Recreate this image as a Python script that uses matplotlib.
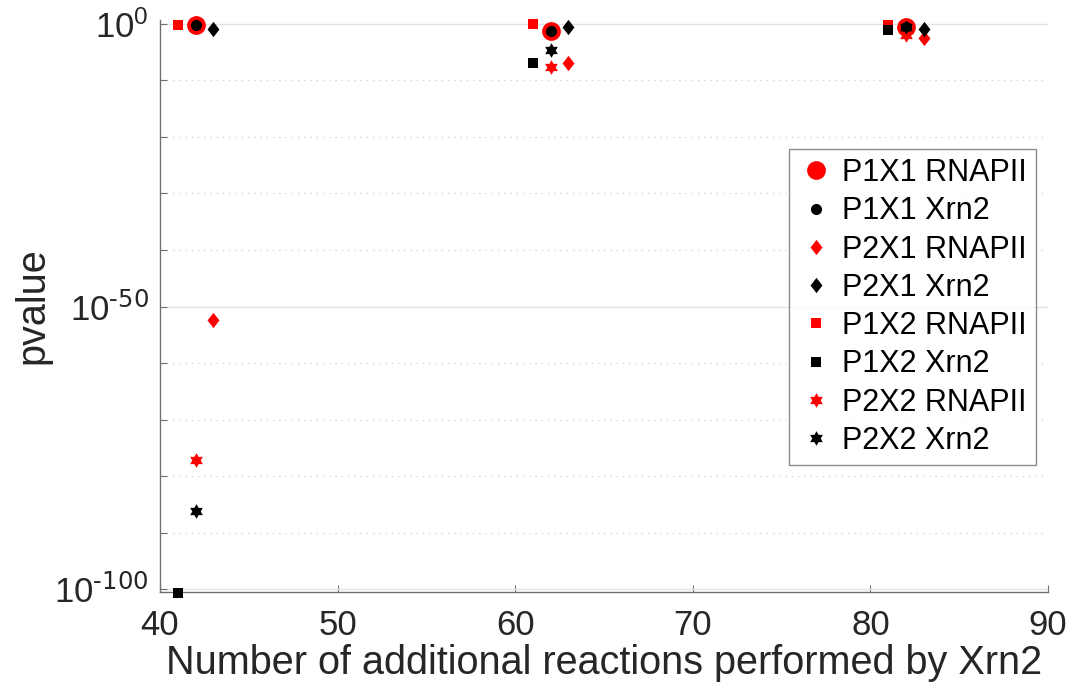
import numpy as np
import matplotlib
matplotlib.use("Agg")
import matplotlib.pyplot as plt
from matplotlib.ticker import FixedLocator, NullFormatter

plt.rcParams["font.family"] = ["Liberation Sans", "DejaVu Sans"]
plt.rcParams["mathtext.default"] = "regular"

# number of additional reactions (group centres) and per-series pvalues
reactions = [42, 62, 82]

p1x1_rnapii = [0.7, 0.063, 0.34]
p1x1_xrn2 = [0.7, 0.063, 0.34]
p2x1_rnapii = [5e-53, 1.1e-7, 3e-3]
p2x1_xrn2 = [0.13, 0.34, 0.11]
p1x2_rnapii = [0.7, 0.95, 0.8]
p1x2_xrn2 = [2e-101, 1.1e-7, 0.1]
p2x2_rnapii = [8e-78, 2.2e-8, 0.012]
p2x2_xrn2 = [6e-87, 2.5e-5, 0.3]

labels = ["P1X1 RNAPII", "P1X1 Xrn2", "P2X1 RNAPII", "P2X1 Xrn2",
          "P1X2 RNAPII", "P1X2 Xrn2", "P2X2 RNAPII", "P2X2 Xrn2"]

# six-pointed star and a slightly slim diamond, like the MATLAB markers
ang = np.pi / 2 + np.arange(12) * np.pi / 6
rad = np.where(np.arange(12) % 2 == 0, 1.0, 1 / np.sqrt(3))
hexagram = list(zip(rad * np.cos(ang), rad * np.sin(ang)))
diamond = [(0, 1), (0.78, 0), (0, -1), (-0.78, 0)]

series = [
    (p1x1_rnapii, 0, "o", "red", 13.5),
    (p1x1_xrn2, 0, "o", "black", 8),
    (p2x1_rnapii, 1, diamond, "red", 11),
    (p2x1_xrn2, 1, diamond, "black", 11),
    (p1x2_rnapii, -1, "s", "red", 7),
    (p1x2_xrn2, -1, "s", "black", 7),
    (p2x2_rnapii, 0, hexagram, "red", 10.5),
    (p2x2_xrn2, 0, hexagram, "black", 10.5),
]

fig = plt.figure(figsize=(10.73, 6.93), dpi=100)
ax = fig.add_axes([0.1491, 0.1457, 0.8276, 0.8254])

for (vals, dx, mk, col, ms), lab in zip(series, labels):
    xs = [r + dx for r in reactions]
    ax.plot(xs, vals, linestyle="none", marker=mk, color=col,
            markersize=ms, markeredgewidth=0, label=lab, clip_on=False,
            zorder=3)

ax.set_yscale("log")
ax.set_xlim(40, 90)
ax.set_ylim(10 ** -100.53, 10 ** 0.7)

ax.set_xticks([40, 50, 60, 70, 80, 90])
ax.yaxis.set_major_locator(FixedLocator([1e-100, 1e-50, 1e0]))
ax.set_yticklabels([r"$10^{\text{-100}}$", r"$10^{\text{-50}}$",
                    r"$10^{0}$"])
minor = [10.0 ** -k for k in range(10, 100, 10) if k != 50]
ax.yaxis.set_minor_locator(FixedLocator(minor))
ax.yaxis.set_minor_formatter(NullFormatter())

ax.grid(True, axis="y", which="major", color="#e3e3e3", linewidth=1)
ax.grid(True, axis="y", which="minor", color="#cfcfcf", linewidth=0.9,
        linestyle=(0, (1, 4)))
ax.set_axisbelow(True)

for side in ["top", "right"]:
    ax.spines[side].set_visible(False)
for side in ["left", "bottom"]:
    ax.spines[side].set_color("#707070")
    ax.spines[side].set_linewidth(1)

ax.tick_params(which="both", direction="in", color="#707070",
               labelcolor="#262626", labelsize=25, length=5, width=0.8)
ax.tick_params(axis="x", pad=12)
ax.tick_params(axis="y", pad=8)

ax.set_xlabel("Number of additional reactions performed by Xrn2",
              fontsize=28.5, color="#262626", labelpad=2)
ax.set_ylabel("pvalue", fontsize=28.5, color="#262626", labelpad=2)

leg = ax.legend(loc="upper right", bbox_to_anchor=(0.9865, 0.7745),
                fontsize=22, frameon=True, fancybox=False,
                labelspacing=0.27, handletextpad=0.25, handlelength=1.2,
                borderpad=0.3, borderaxespad=0)
leg.get_frame().set_edgecolor("#707070")
leg.get_frame().set_linewidth(1)

fig.savefig("out.png", dpi=100)
